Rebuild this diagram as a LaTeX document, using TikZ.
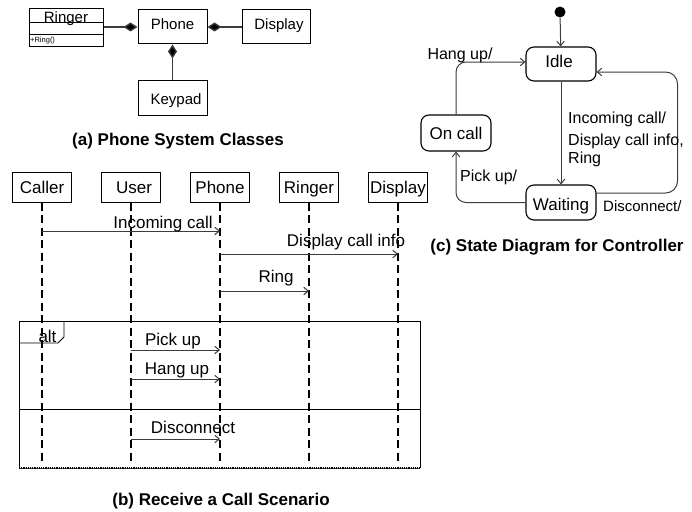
\documentclass[tikz,border=0pt]{standalone}
\usepackage{fontspec}
\setmainfont{Liberation Sans}
\usetikzlibrary{arrows.meta}
\definecolor{lc}{RGB}{60,60,60}
\tikzset{
  fa/.style={font=\fontsize{15}{17}\selectfont, text height=10.7pt, text depth=0pt},
  fb/.style={font=\fontsize{17}{20}\selectfont, text height=12.2pt, text depth=0pt},
  fs/.style={font=\fontsize{16}{19}\selectfont, text height=11.5pt, text depth=0pt},
  capt/.style={font=\fontsize{17}{20}\selectfont\bfseries, text height=12.2pt, text depth=0pt, inner sep=0pt},
  cls/.style={draw, line width=1pt, inner sep=0pt, fa},
  head/.style={draw, line width=1pt, inner sep=0pt, minimum width=59pt, minimum height=30pt, fb},
  state/.style={draw, line width=1.1pt, rounded corners=8pt, inner sep=0pt, minimum width=70pt, fb},
  comp/.style={draw=lc, line width=1.3pt, {Diamond[length=14pt,width=9pt,fill=black]}-},
  life/.style={draw=black, line width=1.3pt, dash pattern=on 8pt off 4.5pt},
  msg/.style={draw=lc, line width=1pt, -{Straight Barb[length=4.5pt,width=7.5pt]}},
  tr/.style={draw=lc, line width=1pt, -{Straight Barb[length=4.5pt,width=7.5pt]}, rounded corners=10pt},
  lbl/.style={inner sep=0pt, fb},
}
\begin{document}
\begin{tikzpicture}[x=1pt,y=-1pt]
\useasboundingbox (0,0) rectangle (692,511);
% (a) classes
\node[cls, minimum width=74pt, minimum height=38pt] (ringer) at (66,28) {};
\draw[line width=1pt] (29,23) -- (103,23) (29,35) -- (103,35);
\node[fa, inner sep=0pt] (ringertxt) at (66,17) {Ringer};
\node[inner sep=0pt, anchor=west, font=\fontsize{7.5}{8}\selectfont] (ringop) at (30,41) {+Ring()};
\node[cls, minimum width=69pt, minimum height=34pt] (phone) at (172.5,27) {};
\node[fa, inner sep=0pt] (phonetxt) at (172.5,24.5) {Phone};
\node[cls, minimum width=68pt, minimum height=34pt] (display) at (276,27) {};
\node[fa, inner sep=0pt] (displaytxt) at (279,24.5) {Display};
\node[cls, minimum width=69pt, minimum height=35pt] (keypad) at (172.5,97.5) {};
\node[fa, inner sep=0pt] (keypadtxt) at (176,99.5) {Keypad};
\draw[comp] (phone.west) -- (ringer.east |- phone.west);
\draw[comp] (phone.east) -- (display.west);
\draw[comp] (phone.south) -- (keypad.north);
\node[capt] (capa) at (178,139.5) {(a) Phone System Classes};
% (b) sequence
\node[head] (caller) at (42,187) {Caller};
\node[head] (user) at (131,187) {\hspace*{6pt}User};
\node[head] (sphone) at (220,187) {Phone};
\node[head] (sringer) at (309,187) {Ringer};
\node[head] (sdisplay) at (398,187) {Display};
\foreach \n in {caller,user,sphone,sringer,sdisplay}
  \draw[life] (\n.south) -- ++(0,261);
\draw[msg] (caller.south |- 0,231) -- (sphone.south |- 0,231);
\node[lbl] (l1) at (163,222.5) {Incoming call};
\draw[msg] (sphone.south |- 0,254) -- (sdisplay.south |- 0,254);
\node[lbl] (l2) at (346,240) {Display call info};
\draw[msg] (sphone.south |- 0,291) -- (sringer.south |- 0,291);
\node[lbl] (l3) at (276,276) {Ring};
% alt frame
\draw[line width=0.9pt] (19,468) -- (19,321) -- (420,321) -- (420,468);
\draw[lc, line width=1pt] (19,468) -- (420,468);
\draw[black, line width=1.8pt, dash pattern=on 1.2pt off 1pt] (19,468) -- (420,468);
\draw[line width=0.9pt] (19,409) -- (420,409);
\draw[line width=0.9pt] (19,343) -- (58,343) -- (64,337) -- (64,321);
\node[lbl] (alt) at (47.5,336) {alt};
\draw[msg] (user.south |- 0,350) -- (sphone.south |- 0,350);
\node[lbl] (l4) at (173,339) {Pick up};
\draw[msg] (user.south |- 0,379) -- (sphone.south |- 0,379);
\node[lbl] (l5) at (177,368) {Hang up};
\draw[msg] (user.south |- 0,439) -- (sphone.south |- 0,439);
\node[lbl] (l6) at (193,427) {Disconnect};
\node[capt] (capb) at (221,499) {(b) Receive a Call Scenario};
% (c) state diagram
\node[circle, fill=black, inner sep=0pt, minimum size=11pt] (init) at (560,12) {};
\node[state, minimum height=34pt] (idle) at (561,64) {};
\node[fb, inner sep=0pt] (idletxt) at (559,61.5) {Idle};
\node[state, minimum height=36pt] (oncall) at (456,133) {On call};
\node[state, minimum height=35pt] (waiting) at (561,202.5) {};
\node[fb, inner sep=0pt] (waitingtxt) at (561,204) {Waiting};
\draw[tr] (init) -- (idle);
\draw[tr] (idle) -- (waiting);
\draw[tr] (oncall.north) |- ([yshift=2pt]idle.west);
\draw[tr] (waiting.west) -| (oncall.south);
\draw[tr, rounded corners=12pt] ([yshift=9.5pt]waiting.east) -- ++(81,0) |- ([yshift=-8pt]idle.east);
\node[lbl, fs] (t1) at (460,54) {Hang up/};
\node[lbl, fs, anchor=west] (t2) at (460,176) {Pick up/};
\node[lbl, fs, anchor=west] (t3) at (568,117.5) {Incoming call/};
\node[lbl, fs, anchor=west] (t4) at (568,140) {Display call info,};
\node[lbl, fs, anchor=west] (t5) at (568,157.5) {Ring};
\node[lbl, fa, anchor=west] (t6) at (603,206) {Disconnect/};
\node[capt] (capc) at (557,245) {(c) State Diagram for Controller};
\end{tikzpicture}
\end{document}
